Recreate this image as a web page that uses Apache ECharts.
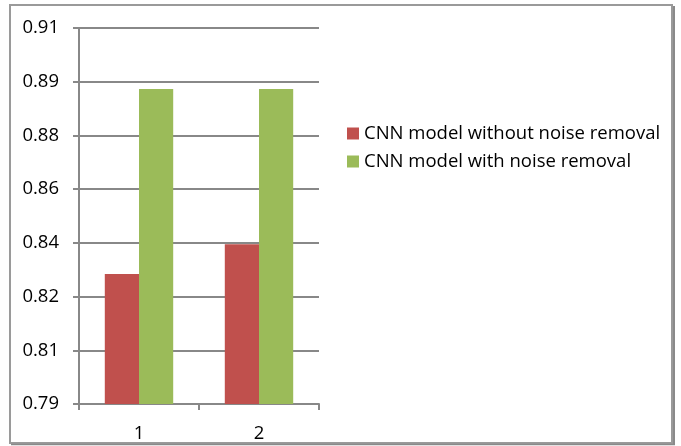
<!DOCTYPE html>
<html>
<head>
<meta charset="utf-8">
<title>CNN model accuracy</title>
<script src="https://cdn.jsdelivr.net/npm/echarts@6/dist/echarts.min.js"></script>
<style>
  html, body { margin: 0; padding: 0; background: #ffffff; }
  #chart { width: 681px; height: 446px; }
</style>
</head>
<body>
<div id="chart"></div>
<script>
// Categories (experiment runs) and accuracies per model variant
const categories = ['1', '2'];
const withoutNoiseRemoval = [0.8315, 0.841];
const withNoiseRemoval = [0.8905, 0.8905];
const seriesNames = ['CNN model without noise removal', 'CNN model with noise removal'];

// Value axis: 7 equal steps from 0.79 to 0.91, labels rounded to 2 decimals
const yMin = 0.79;
const yMax = 0.91;
const ySteps = 7;
const yTicks = [];
for (let i = 0; i <= ySteps; i++) yTicks.push(yMin + (yMax - yMin) * i / ySteps);

const FONT = '"Open Sans", "Noto Sans", sans-serif';
const FONT_SIZE = 18.5;
const AXIS_GRAY = '#888888';

const chart = echarts.init(document.getElementById('chart'), null, { renderer: 'canvas' });

chart.setOption({
  animation: false,
  backgroundColor: '#ffffff',
  textStyle: { fontFamily: FONT },
  graphic: [
    // chart frame with a darker edge on the right and bottom
    { type: 'rect', shape: { x: 10, y: 5, width: 662, height: 438 },
      style: { fill: 'none', stroke: '#9a9a9a', lineWidth: 2 }, z: 0 },
    { type: 'line', shape: { x1: 674, y1: 6, x2: 674, y2: 445 },
      style: { stroke: '#8a8a8a', lineWidth: 2 }, z: 0 },
    { type: 'line', shape: { x1: 11, y1: 444.5, x2: 675, y2: 444.5 },
      style: { stroke: '#8a8a8a', lineWidth: 1.5 }, z: 0 }
  ],
  grid: { left: 79, right: 362, top: 28, bottom: 42, containLabel: false },
  legend: {
    orient: 'vertical',
    left: 347,
    top: 124,
    padding: 0,
    itemGap: 9,
    itemWidth: 12,
    itemHeight: 12,
    icon: 'rect',
    selectedMode: false,
    textStyle: { fontFamily: FONT, fontSize: FONT_SIZE, color: '#000000', lineHeight: 14 },
    data: seriesNames
  },
  xAxis: {
    type: 'category',
    data: categories,
    axisLine: { show: true, lineStyle: { color: AXIS_GRAY, width: 2 } },
    axisTick: { show: true, length: 6, alignWithLabel: false, lineStyle: { color: AXIS_GRAY, width: 2 } },
    axisLabel: { fontFamily: FONT, fontSize: FONT_SIZE, color: '#000000', margin: 20 },
    splitLine: { show: false }
  },
  yAxis: {
    type: 'value',
    min: yMin,
    max: yMax,
    axisLine: { show: true, lineStyle: { color: AXIS_GRAY, width: 2 } },
    axisTick: { show: true, length: 6, customValues: yTicks, lineStyle: { color: AXIS_GRAY, width: 2 } },
    axisLabel: {
      fontFamily: FONT, fontSize: FONT_SIZE, color: '#000000', margin: 20,
      customValues: yTicks,
      formatter: v => v.toFixed(2)
    },
    splitLine: { show: true, lineStyle: { color: AXIS_GRAY, width: 2 } }
  },
  series: [
    {
      name: seriesNames[0],
      type: 'bar',
      data: withoutNoiseRemoval,
      barWidth: '28.5%',
      barGap: '0%',
      itemStyle: { color: '#c0504d' }
    },
    {
      name: seriesNames[1],
      type: 'bar',
      data: withNoiseRemoval,
      barWidth: '28.5%',
      barGap: '0%',
      itemStyle: { color: '#9bbb59' }
    }
  ]
});
</script>
</body>
</html>
